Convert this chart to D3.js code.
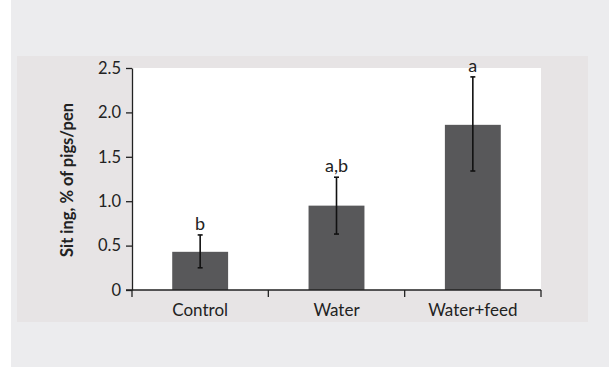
<!DOCTYPE html>
<html lang="en">
<head>
    <meta charset="UTF-8">
    <title>Sitting</title>
    <style>
      body { margin: 0; background: #ffffff; }
      svg { display: block; font-family: "Lato", "Open Sans", sans-serif; }
    </style>
</head>
<body>
    <svg></svg>
    <script src="https://d3js.org/d3.v7.min.js"></script>
    <script>
      const categories = ["Control", "Water", "Water+feed"];
      const means = [0.43, 0.95, 1.86];
      const errUpper = [0.62, 1.27, 2.40];
      const errLower = [0.25, 0.63, 1.34];
      const letters = ["b", "a,b", "a"];
      const yTicks = [0, 0.5, 1.0, 1.5, 2.0, 2.5];
      const yTickLabels = ["0", "0.5", "1.0", "1.5", "2.0", "2.5"];

      const width = 609;
      const height = 367;
      const plot = { left: 132, right: 541, top: 68, bottom: 290 };

      const svg = d3.select("svg").attr("width", width).attr("height", height);

      // page backgrounds
      svg.append("rect").attr("x", 11).attr("y", 0).attr("width", width - 11).attr("height", height).attr("fill", "#ececee");
      svg.append("rect").attr("x", 17).attr("y", 56).attr("width", 571).attr("height", 266).attr("fill", "#e7e4e5");
      svg.append("rect").attr("x", plot.left).attr("y", plot.top)
          .attr("width", plot.right - plot.left).attr("height", plot.bottom - plot.top).attr("fill", "#ffffff");

      const data = categories.map((c, i) => ({ name: c, value: means[i], hi: errUpper[i], lo: errLower[i], letter: letters[i] }));

      const x = d3.scaleBand()
          .domain(categories)
          .range([plot.left, plot.right])
          .paddingInner(0.59)
          .paddingOuter(0.295);

      const slot = d3.scaleBand().domain(categories).range([plot.left, plot.right]).padding(0);

      const y = d3.scaleLinear()
          .domain([0, 2.5])
          .range([plot.bottom, plot.top]);

      svg.append("g")
          .attr("fill", "#58585a")
        .selectAll("rect")
        .data(data)
        .join("rect")
          .attr("x", d => x(d.name))
          .attr("y", d => y(d.value))
          .attr("width", x.bandwidth())
          .attr("height", d => y(0) - y(d.value));

      // error bars
      const eb = svg.append("g").attr("stroke", "#111").attr("stroke-width", 1.6);
      data.forEach(d => {
        const cx = x(d.name) + x.bandwidth() / 2;
        eb.append("line").attr("x1", cx).attr("x2", cx).attr("y1", y(d.hi)).attr("y2", y(d.lo));
        eb.append("line").attr("x1", cx - 2.5).attr("x2", cx + 2.5).attr("y1", y(d.hi)).attr("y2", y(d.hi));
        eb.append("line").attr("x1", cx - 2.5).attr("x2", cx + 2.5).attr("y1", y(d.lo)).attr("y2", y(d.lo));
      });

      svg.append("g")
        .selectAll("text")
        .data(data)
        .join("text")
          .attr("x", d => x(d.name) + x.bandwidth() / 2)
          .attr("y", d => y(d.hi) - 5)
          .attr("text-anchor", "middle")
          .attr("font-size", 18)
          .attr("fill", "#222")
          .text(d => d.letter);

      // y axis
      const yAxis = svg.append("g")
          .attr("transform", `translate(${plot.left},0)`)
          .call(d3.axisLeft(y).tickValues(yTicks).tickFormat((d, i) => yTickLabels[i]).tickSize(6).tickSizeOuter(0).tickPadding(5));
      yAxis.selectAll("text").attr("font-size", 16.5).attr("fill", "#222").attr("font-family", "Lato, sans-serif");

      // x axis with dividers between categories
      const xEdges = [plot.left].concat(categories.map(c => slot(c) + slot.bandwidth()));
      const xAxis = svg.append("g").attr("stroke", "#222").attr("stroke-width", 1.3);
      xAxis.append("line").attr("x1", plot.left - 6).attr("x2", plot.right).attr("y1", y(0)).attr("y2", y(0));
      xEdges.forEach(e => {
        xAxis.append("line").attr("x1", e).attr("x2", e).attr("y1", y(0)).attr("y2", y(0) + 7);
      });
      yAxis.selectAll("line, path").attr("stroke", "#222").attr("stroke-width", 1.3);

      svg.append("g")
        .selectAll("text")
        .data(categories)
        .join("text")
          .attr("x", d => slot(d) + slot.bandwidth() / 2)
          .attr("y", 316)
          .attr("text-anchor", "middle")
          .attr("font-size", 17)
          .attr("fill", "#222")
          .text(d => d);

      svg.append("text")
          .attr("transform", `translate(73,${(plot.top + plot.bottom) / 2 + 1}) rotate(-90)`)
          .attr("text-anchor", "middle")
          .attr("font-size", 16.5)
          .attr("font-weight", "bold")
          .attr("fill", "#222")
          .text("Sit ing, % of pigs/pen");
    </script>
</body>
</html>
